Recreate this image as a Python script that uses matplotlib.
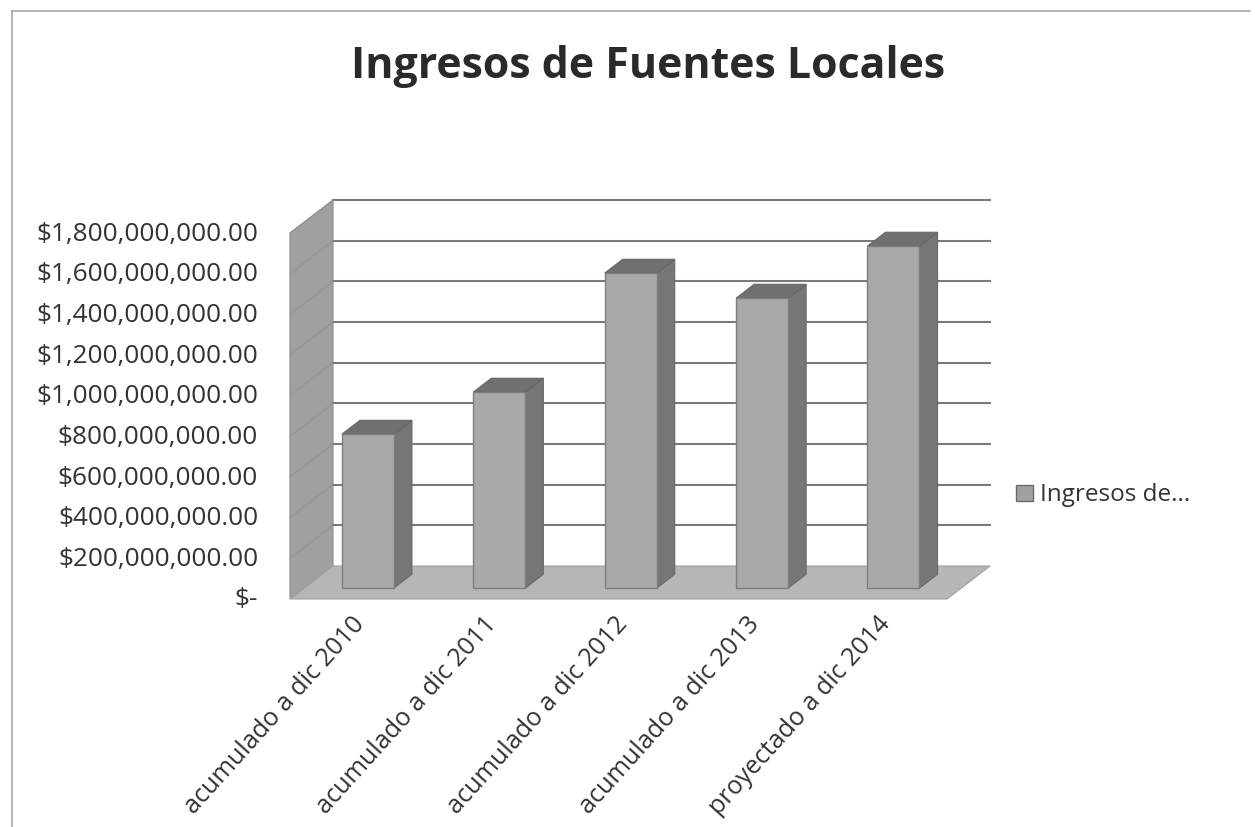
#!/usr/bin/env python3
"""Ingresos de Fuentes Locales - fake 3D column chart."""

import matplotlib
matplotlib.use('Agg')
import matplotlib.pyplot as plt
from matplotlib.patches import Polygon

# Data
categories = ['acumulado a dic 2010', 'acumulado a dic 2011', 'acumulado a dic 2012',
              'acumulado a dic 2013', 'proyectado a dic 2014']
values = [757e6, 964e6, 1549e6, 1426e6, 1682e6]
y_ticks = [0, 200e6, 400e6, 600e6, 800e6, 1000e6, 1200e6, 1400e6, 1600e6, 1800e6]
y_labels = ['$-', '$200,000,000.00', '$400,000,000.00', '$600,000,000.00', '$800,000,000.00',
            '$1,000,000,000.00', '$1,200,000,000.00', '$1,400,000,000.00', '$1,600,000,000.00',
            '$1,800,000,000.00']

W, H = 1255, 827
plt.rcParams['font.family'] = ['Open Sans', 'DejaVu Sans']
fig = plt.figure(figsize=(W / 100, H / 100), dpi=100, facecolor='white')

# front plane of the plot box, in pixels
left, right, top, bottom = 290, 947, 233, 599
ax = fig.add_axes([left / W, 1 - bottom / H, (right - left) / W, (bottom - top) / H])
ax.set_xlim(0, 5)
ax.set_ylim(0, 1.8e9)
ax.axis('off')

# oblique offset of the back wall, in data units
cat_px = (right - left) / 5
DX = 43 / cat_px
DY = 33 / (bottom - top) * 1.8e9


def pr(x, y, d):
    """Project (x, value, depth) onto the front plane; depth runs 0..1."""
    return (x + d * DX, y + d * DY)


def face(pts, color, edge=None, z=1, lw=0.8):
    ax.add_patch(Polygon([pr(*p) for p in pts], closed=True, facecolor=color,
                         edgecolor=edge if edge else color, linewidth=lw,
                         zorder=z, clip_on=False))


ymax = y_ticks[-1]

# walls and floor
face([(0, 0, 0), (0, 0, 1), (0, ymax, 1), (0, ymax, 0)], '#a0a0a0', '#8c8c8c', z=1)
face([(0, 0, 0), (5, 0, 0), (5, 0, 1), (0, 0, 1)], '#b6b6b6', '#a0a0a0', z=1)

# gridlines on back wall and left wall
for t in y_ticks[1:]:
    x0, y0 = pr(0, t, 1)
    x1, y1 = pr(5, t, 1)
    ax.plot([x0, x1], [y0, y1], color='#7a7a7a', lw=1.5, zorder=2, clip_on=False)
    x2, y2 = pr(0, t, 0)
    ax.plot([x2, x0], [y2, y0], color='#929292', lw=0.6, zorder=2, clip_on=False)

# bars
bar_w = 52 / cat_px
d0, d1 = 0.33, 0.75
for i, v in enumerate(values):
    xa = i + 0.5 - 2 / cat_px - bar_w / 2
    xb = xa + bar_w
    face([(xb, 0, d0), (xb, 0, d1), (xb, v, d1), (xb, v, d0)], '#767676', '#6a6a6a', z=3)
    face([(xa, v, d0), (xb, v, d0), (xb, v, d1), (xa, v, d1)], '#707070', '#666666', z=3)
    face([(xa, 0, d0), (xb, 0, d0), (xb, v, d0), (xa, v, d0)], '#a9a9a9', '#7e7e7e', z=4, lw=1.0)

# axis labels
for t, lab in zip(y_ticks, y_labels):
    ax.annotate(lab, xy=(0, t), xycoords='data', xytext=(258 - left, -1),
                textcoords='offset pixels', ha='right', va='center',
                fontsize=18.8, color='#333333', annotation_clip=False)
for i, c in enumerate(categories):
    ax.annotate(c, xy=(i + 0.5, 0), xycoords='data', xytext=(-4, -13),
                textcoords='offset pixels', ha='right', va='top', rotation=48,
                rotation_mode='anchor', fontsize=18.2, color='#333333',
                annotation_clip=False)

fig.text(648 / W, 1 - 66 / H, 'Ingresos de Fuentes Locales', ha='center', va='center',
         fontsize=30.9, fontweight='bold', color='#2a2a2a')

# legend
fig.patches.append(plt.Rectangle((1016 / W, 1 - 501 / H), 17 / W, 16 / H,
                                 transform=fig.transFigure, facecolor='#a0a0a0',
                                 edgecolor='#6a6a6a', linewidth=1))
fig.text(1040 / W, 1 - 495 / H, 'Ingresos de...', ha='left', va='center',
         fontsize=17.5, color='#333333')

# chart frame from the scan
fig.add_artist(plt.Line2D([12 / W, 12 / W], [0, 1 - 11 / H], color='#a8a8a8', lw=1.2))
fig.add_artist(plt.Line2D([12 / W, 1250 / W], [1 - 11 / H, 1 - 11 / H], color='#a8a8a8', lw=1.2))

fig.savefig('out.png', dpi=100)
